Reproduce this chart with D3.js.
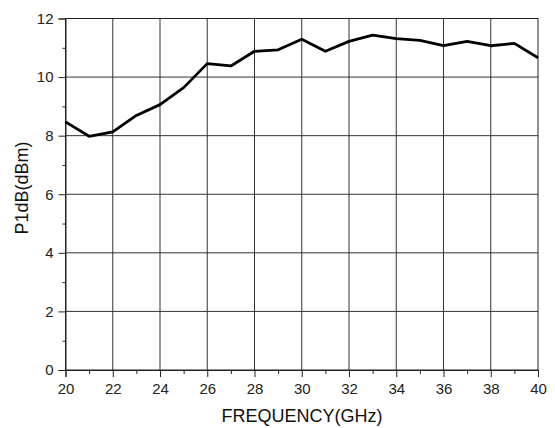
<!DOCTYPE html>
<html>
<head>
<meta charset="utf-8">
<script src="https://cdn.jsdelivr.net/npm/d3@7"></script>
<style>
  body { margin: 0; background: #fff; }
  svg { display: block; font-family: "Liberation Sans", Arial, sans-serif; }
</style>
</head>
<body>
<div id="chart"></div>
<script>
const freq = [20, 21, 22, 23, 24, 25, 26, 27, 28, 29, 30, 31, 32, 33, 34, 35, 36, 37, 38, 39, 40];
const p1db = [8.47, 7.98, 8.13, 8.69, 9.06, 9.64, 10.46, 10.38, 10.88, 10.93, 11.29,
              10.88, 11.22, 11.43, 11.31, 11.25, 11.07, 11.22, 11.07, 11.15, 10.66];
const xTicks = [20, 22, 24, 26, 28, 30, 32, 34, 36, 38, 40];
const yTicks = [0, 2, 4, 6, 8, 10, 12];

const w = 555, h = 428;
const margin = {top: 18.5, right: 17, bottom: 58, left: 65.5};

const svg = d3.select("#chart").append("svg")
    .attr("width", w)
    .attr("height", h);

const x = d3.scaleLinear().domain([20, 40]).range([margin.left, w - margin.right]);
const y = d3.scaleLinear().domain([0, 12]).range([h - margin.bottom, margin.top]);

// grid
svg.append("g")
    .selectAll("line")
    .data(xTicks.slice(1, -1))
    .enter().append("line")
    .attr("x1", d => x(d)).attr("x2", d => x(d))
    .attr("y1", y(0)).attr("y2", y(12))
    .attr("stroke", "#333").attr("stroke-width", 1);

svg.append("g")
    .selectAll("line")
    .data(yTicks.slice(1, -1))
    .enter().append("line")
    .attr("x1", x(20)).attr("x2", x(40))
    .attr("y1", d => y(d)).attr("y2", d => y(d))
    .attr("stroke", "#333").attr("stroke-width", 1);

// frame
svg.append("rect")
    .attr("x", x(20)).attr("y", y(12))
    .attr("width", x(40) - x(20)).attr("height", y(0) - y(12))
    .attr("fill", "none").attr("stroke", "#222").attr("stroke-width", 1);

// axes
const xAxis = svg.append("g")
    .attr("transform", "translate(0," + y(0) + ")")
    .call(d3.axisBottom(x).tickValues(d3.range(20, 41, 1)).tickSize(7)
        .tickFormat(d => d % 2 === 0 ? d : ""));
xAxis.selectAll(".tick line")
    .attr("y2", d => d % 2 === 0 ? 7 : 4);

const yAxis = svg.append("g")
    .attr("transform", "translate(" + x(20) + ",0)")
    .call(d3.axisLeft(y).tickValues(d3.range(0, 13, 1)).tickSize(7)
        .tickFormat(d => d % 2 === 0 ? d : ""));
yAxis.selectAll(".tick line")
    .attr("x2", d => d % 2 === 0 ? -7 : -3);

svg.selectAll(".domain").attr("stroke", "#222");
svg.selectAll(".tick line").attr("stroke", "#222");
svg.selectAll(".tick text")
    .attr("fill", "#222")
    .style("font-size", "15px")
    .style("font-family", "'Liberation Sans', Arial, sans-serif");
xAxis.selectAll(".tick text").attr("y", 10).attr("dy", "0.95em");
yAxis.selectAll(".tick text").attr("x", -12);

// line
svg.append("path")
    .datum(freq.map((f, i) => [f, p1db[i]]))
    .attr("fill", "none")
    .attr("stroke", "#000")
    .attr("stroke-width", 2.8)
    .attr("stroke-linejoin", "round")
    .attr("d", d3.line().x(d => x(d[0])).y(d => y(d[1])));

// titles
svg.append("text")
    .attr("x", 302)
    .attr("y", 422)
    .attr("text-anchor", "middle")
    .style("font-size", "18px")
    .attr("fill", "#111")
    .text("FREQUENCY(GHz)");

svg.append("text")
    .attr("transform", "translate(27.5,188) rotate(-90)")
    .attr("text-anchor", "middle")
    .style("font-size", "18px")
    .attr("fill", "#111")
    .text("P1dB(dBm)");
</script>
</body>
</html>
